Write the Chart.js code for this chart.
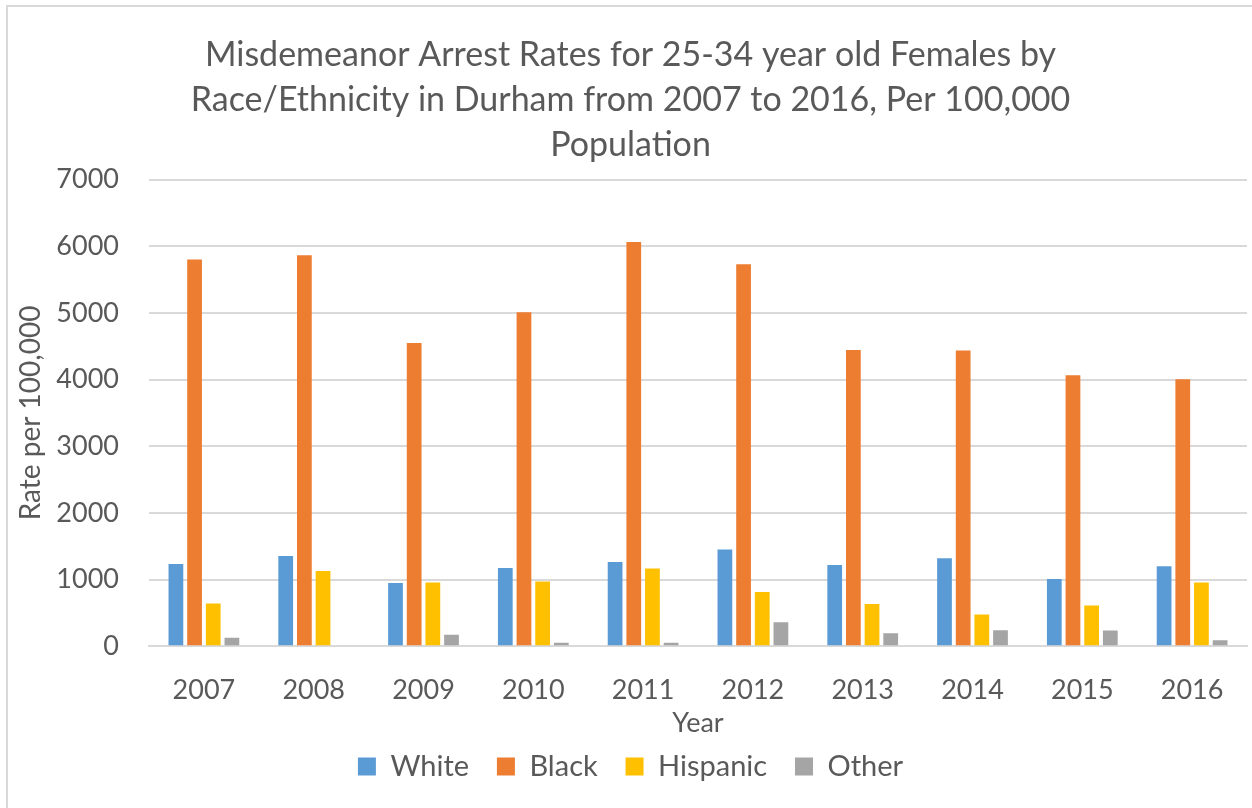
<!DOCTYPE html>
<html>
<head>
<meta charset="utf-8">
<script src="https://cdn.jsdelivr.net/npm/chart.js@4/dist/chart.umd.min.js"></script>
<style>
  html, body { margin: 0; padding: 0; background: #fff; }
  #wrap { position: relative; width: 1252px; height: 808px; overflow: hidden; }
  #frame { position: absolute; left: 6px; top: 5px; width: 1300px; height: 900px; border: 2px solid #d9d9d9; box-sizing: border-box; }
  canvas { position: absolute; left: 0; top: 0; }
</style>
</head>
<body>
<div id="wrap">
  <div id="frame"></div>
  <canvas id="chart" width="1252" height="808"></canvas>
</div>
<script>
// data
const years = ['2007', '2008', '2009', '2010', '2011', '2012', '2013', '2014', '2015', '2016'];
const white = [1235, 1355, 950, 1175, 1265, 1450, 1220, 1320, 1010, 1200];
const black = [5800, 5865, 4550, 5010, 6065, 5730, 4445, 4435, 4065, 4005];
const hispanic = [640, 1130, 955, 970, 1165, 815, 635, 475, 610, 955];
const other = [125, 0, 170, 50, 50, 360, 195, 240, 235, 90];

const titleLines = [
    'Misdemeanor Arrest Rates for 25-34 year old Females by',
    'Race/Ethnicity in Durham from 2007 to 2016, Per 100,000',
    'Population'
];

const fontFamily = 'Lato, "Open Sans", sans-serif';
const textColor = '#595959';
const gridColor = '#d9d9d9';

function series(label, data, color) {
    return {
        label: label,
        data: data,
        backgroundColor: color,
        borderWidth: 0,
        categoryPercentage: 0.68,
        barPercentage: 0.79
    };
}

new Chart(document.getElementById('chart'), {
    type: 'bar',
    data: {
        labels: years,
        datasets: [
            series('White', white, '#5b9bd5'),
            series('Black', black, '#ed7d31'),
            series('Hispanic', hispanic, '#ffc000'),
            series('Other', other, '#a5a5a5')
        ]
    },
    options: {
        responsive: false,
        animation: false,
        layout: { padding: { left: 14, right: 5, top: 33, bottom: 17 } },
        plugins: {
            title: {
                display: true,
                text: titleLines,
                color: textColor,
                font: { family: fontFamily, size: 34, weight: 'normal', lineHeight: 1.32 },
                padding: { top: 0, bottom: 12 }
            },
            legend: {
                position: 'bottom',
                labels: {
                    color: textColor,
                    font: { family: fontFamily, size: 29 },
                    boxWidth: 18,
                    boxHeight: 18,
                    padding: 13,
                    // trailing spaces widen the gap between legend items
                    generateLabels: function(chart) {
                        const items = Chart.defaults.plugins.legend.labels.generateLabels(chart);
                        items.forEach((it, i) => {
                            if (i < items.length - 1) it.text = it.text + '  ';
                        });
                        return items;
                    }
                }
            },
            tooltip: { enabled: false }
        },
        scales: {
            x: {
                grid: { display: false },
                border: { display: true, color: gridColor, width: 2 },
                ticks: {
                    color: textColor,
                    font: { family: fontFamily, size: 27 },
                    padding: 20
                },
                title: {
                    display: true,
                    text: 'Year',
                    color: textColor,
                    font: { family: fontFamily, size: 27 },
                    padding: { top: -20, bottom: 0 }
                }
            },
            y: {
                min: 0,
                max: 7000,
                ticks: {
                    stepSize: 1000,
                    color: textColor,
                    font: { family: fontFamily, size: 27 },
                    padding: 30,
                    callback: v => String(v)
                },
                grid: { color: gridColor, lineWidth: 2, drawTicks: false },
                border: { display: false },
                title: {
                    display: true,
                    text: 'Rate per 100,000',
                    color: textColor,
                    font: { family: fontFamily, size: 28 },
                    padding: { top: 0, bottom: 0 }
                },
                afterFit: function(scale) { scale.width = 135; }
            }
        }
    }
});
</script>
</body>
</html>
